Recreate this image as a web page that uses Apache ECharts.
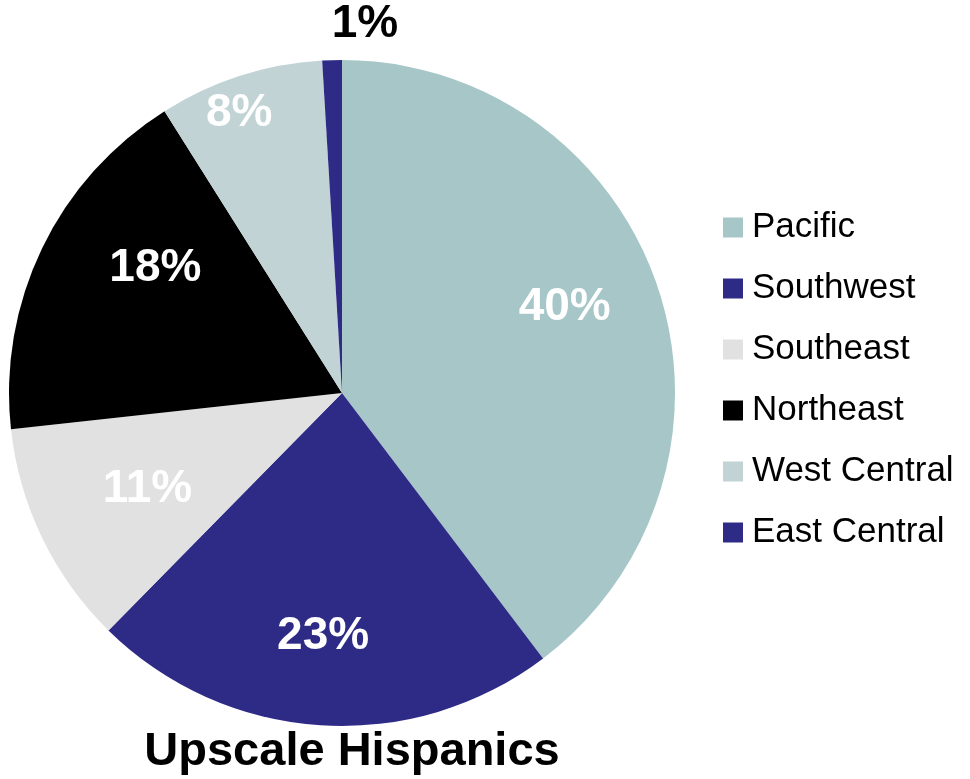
<!DOCTYPE html>
<html>
<head>
<meta charset="utf-8">
<script src="https://cdn.jsdelivr.net/npm/echarts@6/dist/echarts.min.js"></script>
<style>html,body{margin:0;padding:0;background:#fff}#c{width:970px;height:779px}</style>
</head>
<body>
<div id="c"></div>
<script>
var categories = ['Pacific', 'Southwest', 'Southeast', 'Northeast', 'West Central', 'East Central'];
var values = [39.7, 22.7, 10.9, 17.8, 8.0, 0.95];
var titleText = 'Upscale Hispanics';

var colors = ['#A6C6C8', '#2E2B87', '#E1E1E1', '#000000', '#C1D3D5', '#2E2B87'];
var labelColors = ['#fff', '#fff', '#fff', '#fff', '#fff', '#000'];
var labelOffsets = [[62, -32], [-8, 74], [-42, 22], [-34, -51], [-51, -118], [28, -199]];

var chart = echarts.init(document.getElementById('c'), null, {renderer: 'canvas'});
var data = categories.map(function (n, i) {
  return {
    name: n,
    value: values[i],
    itemStyle: {color: colors[i]},
    label: {color: labelColors[i], offset: labelOffsets[i]}
  };
});
chart.setOption({
  animation: false,
  title: {
    text: titleText,
    left: 347,
    top: 724,
    textAlign: 'center',
    textStyle: {fontFamily: 'Liberation Sans, Arial', fontWeight: 'bold', fontSize: 47, color: '#000'}
  },
  legend: {
    orient: 'vertical',
    left: 723,
    top: 210,
    padding: 0,
    itemWidth: 20,
    itemHeight: 20,
    itemGap: 26,
    icon: 'rect',
    selectedMode: false,
    data: categories,
    textStyle: {fontFamily: 'Liberation Sans, Arial', fontSize: 35, lineHeight: 35, color: '#000', padding: [0, 0, 0, 4]}
  },
  series: [{
    type: 'pie',
    center: [342, 393],
    radius: 333,
    startAngle: 90,
    clockwise: true,
    avoidLabelOverlap: false,
    itemStyle: {borderWidth: 0},
    label: {
      show: true,
      position: 'inside',
      fontFamily: 'Liberation Sans, Arial',
      fontWeight: 'bold',
      fontSize: 46,
      formatter: function (p) { return Math.round(p.value) + '%'; }
    },
    labelLine: {show: false},
    emphasis: {disabled: true},
    data: data
  }]
});
</script>
</body>
</html>
